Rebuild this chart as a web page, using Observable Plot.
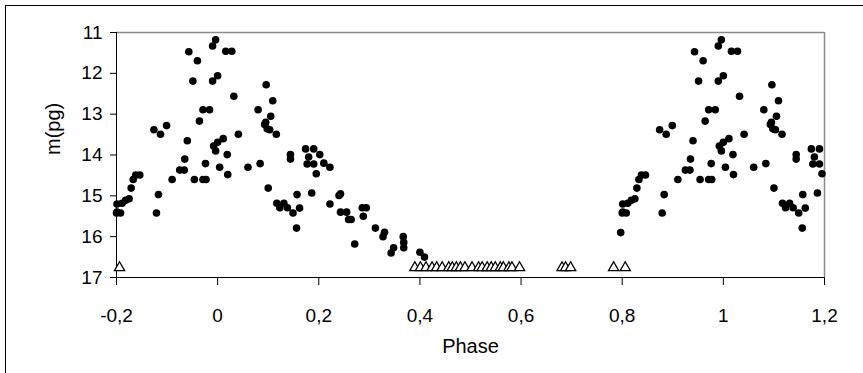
<!DOCTYPE html>
<html>
<head>
<meta charset="utf-8">
<script src="https://cdn.jsdelivr.net/npm/d3@7"></script>
<script src="https://cdn.jsdelivr.net/npm/@observablehq/plot@0.6"></script>
<style>
  html, body { margin: 0; padding: 0; background: white; }
  #wrap { position: relative; width: 863px; height: 373px; overflow: hidden; }
  #border { position: absolute; left: 5px; top: 5px; width: 900px; height: 420px; border: 1px solid #000; pointer-events: none; }
</style>
</head>
<body>
<div id="wrap"><div id="chart"></div><div id="border"></div></div>
<script>
// Detections: phase (0..1) and photographic magnitude m(pg)
const phase = [
  0.800, 0.801, 0.808, 0.801, 0.811, 0.818, 0.825, 0.829, 0.833, 0.838, 0.846,
  0.874, 0.887, 0.899, 0.879, 0.883, 0.910, 0.925, 0.934, 0.935, 0.940, 0.943,
  0.960, 0.951, 0.954, 0.971, 0.977, 0.976, 0.964, 0.971, 0.984, 0.990, 0.996,
  0.990, 0.992, 0.996, 0.797,
  0.000, 0.000, 0.011, 0.004, 0.016, 0.028, 0.032, 0.019, 0.020, 0.041, 0.060,
  0.080, 0.096, 0.109, 0.105, 0.093, 0.098, 0.103, 0.116, 0.084, 0.100, 0.117,
  0.123, 0.131, 0.138, 0.149, 0.157, 0.162, 0.156, 0.144, 0.144, 0.174, 0.190,
  0.202, 0.180, 0.177, 0.190, 0.210, 0.222, 0.195, 0.186, 0.222, 0.243, 0.240,
  0.243, 0.255, 0.259, 0.264, 0.271, 0.286, 0.294, 0.288, 0.312, 0.330, 0.327,
  0.343, 0.348, 0.367, 0.368, 0.368, 0.400, 0.409, 0.095
];
const mag = [
  15.42, 15.40, 15.42, 15.20, 15.18, 15.11, 15.07, 14.81, 14.60, 14.49, 14.49,
  13.38, 13.49, 13.28, 15.42, 14.97, 14.60, 14.37, 14.37, 14.10, 13.65, 11.47,
  11.69, 12.19, 14.60, 14.60, 14.60, 14.21, 13.17, 12.89, 12.89, 11.33, 11.18,
  12.19, 13.78, 13.90, 15.90,
  12.06, 13.69, 13.60, 14.30, 11.46, 11.46, 12.56, 13.99, 14.48, 13.49, 14.30,
  12.89, 12.28, 12.67, 13.05, 13.25, 13.36, 13.38, 13.49, 14.21, 14.81, 15.18,
  15.29, 15.18, 15.29, 15.42, 14.97, 15.30, 15.79, 13.99, 14.10, 13.85, 13.85,
  13.99, 14.05, 14.22, 14.22, 14.20, 14.30, 14.46, 14.93, 15.20, 14.95, 14.99,
  15.40, 15.40, 15.58, 15.58, 16.18, 15.29, 15.29, 15.50, 15.79, 15.89, 16.00,
  16.40, 16.27, 16.00, 16.14, 16.27, 16.38, 16.50, 13.20
];
// Upper limits (open triangles)
const limPhase = [
  0.390, 0.401, 0.412, 0.424, 0.433, 0.444, 0.457, 0.464, 0.472, 0.480, 0.489,
  0.503, 0.516, 0.523, 0.533, 0.541, 0.549, 0.559, 0.565, 0.576, 0.582, 0.597,
  0.681, 0.688, 0.698, 0.783, 0.806
];
const limMag = limPhase.map(() => 16.76);

const xTicks = [-0.2, 0, 0.2, 0.4, 0.6, 0.8, 1, 1.2];
const yTicks = [11, 12, 13, 14, 15, 16, 17];

// Phase-folded display: repeat the cycle on both sides within [-0.2, 1.2]
function fold(ph, m) {
  const out = [];
  ph.forEach((p, i) => {
    out.push({x: p, y: m[i]});
    if (p >= 0.8) out.push({x: p - 1, y: m[i]});
    if (p < 0.2) out.push({x: p + 1, y: m[i]});
  });
  return out;
}
const detections = fold(phase, mag);
const limits = fold(limPhase, limMag);

const fmtX = d => String(Math.round(d * 10) / 10).replace(".", ",");
const fmtY = d => String(Math.round(d));

const chart = Plot.plot({
  width: 863,
  height: 373,
  marginLeft: 116,
  marginRight: 39,
  marginTop: 32,
  marginBottom: 96,
  style: {fontFamily: "'Liberation Sans', Arial, sans-serif", fontSize: "19px", color: "black", background: "white"},
  x: {domain: [-0.2, 1.2]},
  y: {domain: [11, 17], reverse: true},
  marks: [
    Plot.ruleY([11], {stroke: "#8a8a8a", strokeWidth: 1.5}),
    Plot.ruleX([1.2], {stroke: "#8a8a8a", strokeWidth: 1.5}),
    Plot.axisX({ticks: xTicks, tickFormat: fmtX, tickSize: 8, tickPadding: 23, fontSize: 19, label: null}),
    Plot.axisY({ticks: yTicks, tickFormat: fmtY, tickSize: 6, tickPadding: 8, fontSize: 19, label: null}),
    Plot.ruleX([-0.2], {stroke: "black"}),
    Plot.ruleY([17], {stroke: "black"}),
    Plot.dot(limits, {x: "x", y: "y", symbol: "triangle", r: 3.8, stroke: "black", fill: "white", strokeWidth: 1.3}),
    Plot.dot(detections, {x: "x", y: "y", r: 3.8, fill: "black"}),
    Plot.text(["Phase"], {text: d => d, frameAnchor: "bottom", dy: 69, lineAnchor: "middle", fontSize: 20}),
    Plot.text(["m(pg)"], {text: d => d, frameAnchor: "left", dx: -63, rotate: -90, fontSize: 20})
  ]
});
document.getElementById("chart").appendChild(chart);
</script>
</body>
</html>
